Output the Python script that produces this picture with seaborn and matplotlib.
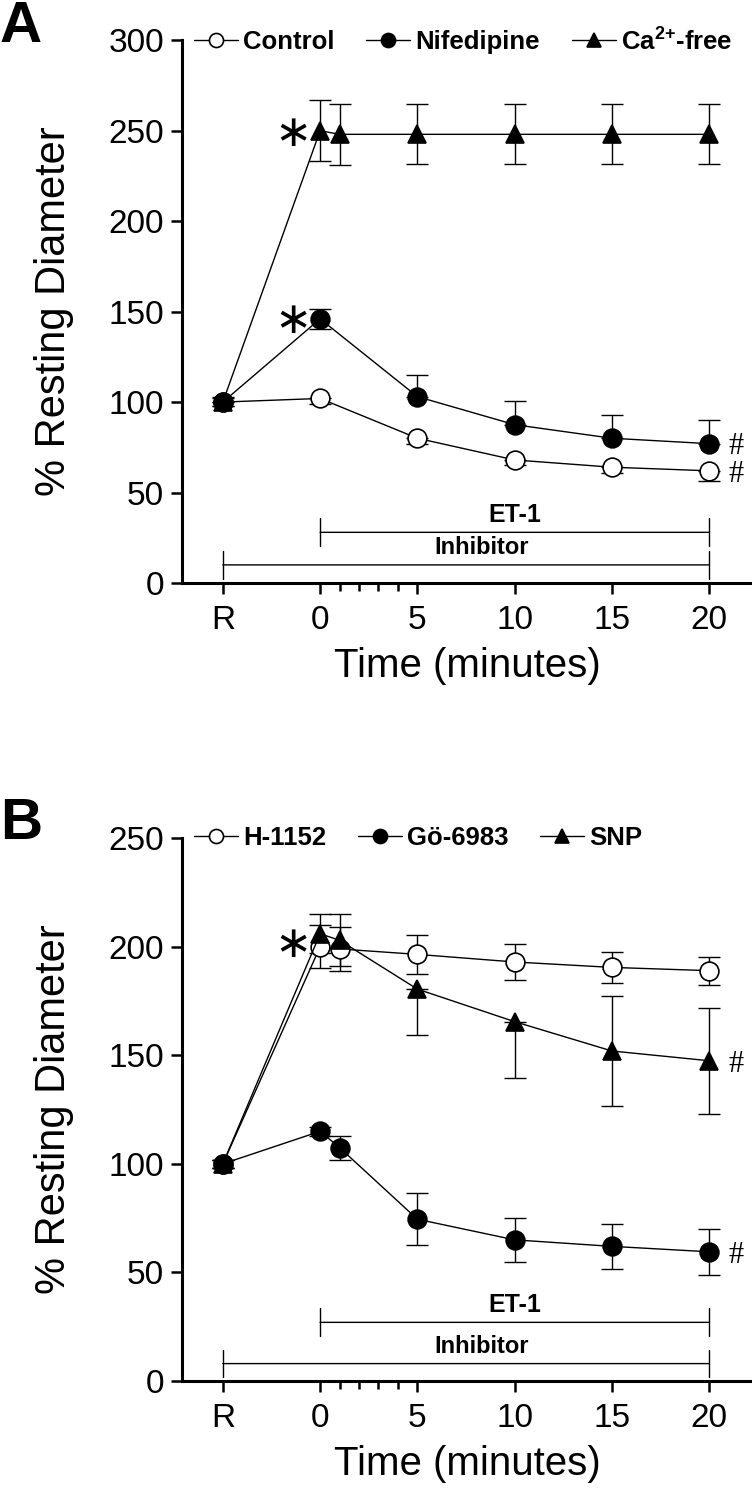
import numpy as np
import seaborn as sns
import matplotlib
matplotlib.use('Agg')
import matplotlib.pyplot as plt

# ---- data ----
tick_pos = [-5, 0, 5, 10, 15, 20]
tick_labels = ['R', '0', '5', '10', '15', '20']

# panel A
ctrl_t = [-5, 0, 5, 10, 15, 20]
ctrl_y = [100, 102, 80, 68, 64, 62]
ctrl_lo = [2, 3, 3, 3, 3, 5.5]
ctrl_hi = [0, 0, 0, 0, 0, 0]

nif_t = [-5, 0, 5, 10, 15, 20]
nif_y = [100, 146, 103, 87.5, 80, 77]
nif_lo = [0, 5.5, 0, 0, 0, 0]
nif_hi = [3, 5.5, 12, 13, 13, 13]

ca_t = [-5, 0, 1, 5, 10, 15, 20]
ca_y = [100, 250, 248, 248, 248, 248, 248]
ca_err = [2, 17, 17, 16.5, 16.5, 16.5, 16.5]

# panel B
h_t = [-5, 0, 1, 5, 10, 15, 20]
h_y = [100, 200, 199, 196.5, 193, 190.5, 189]
h_err = [2, 10, 10, 9, 8.5, 7, 6.5]

go_t = [-5, 0, 1, 5, 10, 15, 20]
go_y = [100, 115, 107.5, 74.5, 65, 62, 59.5]
go_err = [2, 2, 5.5, 12, 10, 10.5, 10.7]

snp_t = [-5, 0, 1, 5, 10, 15, 20]
snp_y = [100, 206, 203, 180.5, 165.5, 152, 147.5]
snp_lo = [2, 9, 12, 21, 26, 25.5, 24.5]
snp_hi = [2, 9, 12, 0, 0, 25.5, 24.5]

sns.set_style('ticks')
plt.rcParams['font.family'] = ['Liberation Sans', 'DejaVu Sans']
plt.rcParams['mathtext.fontset'] = 'custom'
plt.rcParams['mathtext.rm'] = 'Liberation Sans'
plt.rcParams['mathtext.bf'] = 'Liberation Sans:bold'
for k in ['text.color', 'axes.labelcolor', 'xtick.color', 'ytick.color', 'axes.edgecolor']:
    plt.rcParams[k] = 'black'

fig = plt.figure(figsize=(7.52, 14.91), dpi=100)
axA = fig.add_axes([0.242, 0.609, 0.758, 0.364])
axB = fig.add_axes([0.242, 0.0738, 0.758, 0.364])

MS = 13.5


def series(ax, t, y, lo, hi, marker, fill, label):
    ax.errorbar(t, y, yerr=[lo, hi], fmt='none', ecolor='black',
                elinewidth=1, capsize=8, capthick=1, zorder=2)
    sns.lineplot(x=t, y=y, ax=ax, color='black', lw=1, marker=marker,
                 markersize=MS, markerfacecolor=fill, markeredgecolor='black',
                 markeredgewidth=1.2, label=label, zorder=3, legend=False)


series(axA, ctrl_t, ctrl_y, ctrl_lo, ctrl_hi, 'o', 'white', 'Control')
series(axA, nif_t, nif_y, nif_lo, nif_hi, 'o', 'black', 'Nifedipine')
series(axA, ca_t, ca_y, ca_err, ca_err, '^', 'black', r'Ca$^{\mathbf{2{+}}}$-free')

series(axB, h_t, h_y, h_err, h_err, 'o', 'white', 'H-1152')
series(axB, go_t, go_y, go_err, go_err, 'o', 'black', 'Gö-6983')
series(axB, snp_t, snp_y, snp_lo, snp_hi, '^', 'black', 'SNP')


def style(ax, ymax, et_y, inh_y):
    ax.set_xlim(-7.1, 22.2)
    ax.set_ylim(0, ymax)
    ax.set_xticks(tick_pos)
    ax.set_xticklabels(tick_labels)
    ax.set_xticks([1, 2, 3, 4], minor=True)
    ax.set_yticks(np.arange(0, ymax + 1, 50))
    for s in ['top', 'right']:
        ax.spines[s].set_visible(False)
    for s in ['left', 'bottom']:
        ax.spines[s].set_linewidth(2.2)
    ax.tick_params(axis='both', which='major', length=8, width=1.8,
                   labelsize=24, direction='out')
    ax.tick_params(axis='y', pad=5)
    ax.tick_params(axis='x', pad=8)
    ax.tick_params(axis='x', which='minor', length=5.5, width=1.8)
    ax.set_xlabel('Time (minutes)', fontsize=29, labelpad=8)
    ax.set_ylabel('% Resting Diameter', fontsize=30)
    ax.yaxis.set_label_coords(-0.19, 0.5)

    # treatment bars
    bar = dict(arrowstyle='|-|, widthA=0.5, widthB=0.5', lw=1, shrinkA=0, shrinkB=0,
               mutation_scale=20, color='black')
    ax.annotate('', xy=(20, et_y), xytext=(0, et_y), arrowprops=bar)
    ax.annotate('', xy=(20, inh_y), xytext=(-5, inh_y), arrowprops=bar)
    ax.annotate('ET-1', xy=(10, et_y), xytext=(0, 4), textcoords='offset points',
                ha='center', va='bottom', fontsize=18, fontweight='bold')
    ax.annotate('Inhibitor', xy=(8.3, inh_y), xytext=(0, 4), textcoords='offset points',
                ha='center', va='bottom', fontsize=17, fontweight='bold')

    leg = ax.legend(loc='center left', bbox_to_anchor=(0.012, 1.0), ncol=3,
                    frameon=False, fontsize=18.5, handlelength=1.7,
                    handletextpad=0.2, columnspacing=1.25, markerscale=0.75,
                    borderaxespad=0, borderpad=0.2)
    for txt in leg.get_texts():
        txt.set_fontweight('bold')


style(axA, 300, 28, 10)
style(axB, 250, 27, 8)

# significance marks
star = dict(ha='center', va='center', fontsize=32, family='DejaVu Sans')
axA.text(-1.4, 248.6, '∗', **star)
axA.text(-1.4, 145, '∗', **star)
axB.text(-1.4, 201, '∗', **star)
hsh = dict(ha='center', va='center', fontsize=22, family='Liberation Serif', clip_on=False)
axA.text(21.4, 75.7, '#', **hsh)
axA.text(21.4, 60, '#', **hsh)
axB.text(21.4, 146, '#', **hsh)
axB.text(21.4, 58, '#', **hsh)

fig.text(0.0, 1.0, 'A', fontsize=42, fontweight='bold', ha='left', va='top')
fig.text(0.0, 1 - 797 / 1491, 'B', fontsize=42, fontweight='bold', ha='left', va='top')

fig.savefig('out.png', dpi=100)
